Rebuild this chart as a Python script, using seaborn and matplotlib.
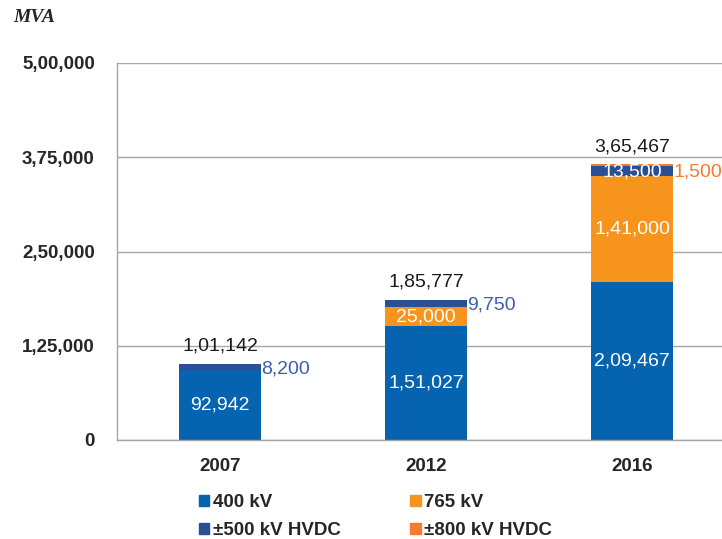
import matplotlib
matplotlib.use("Agg")
import matplotlib.pyplot as plt
import matplotlib.patches as mpatches
import seaborn as sns
import pandas as pd
import numpy as np

# Data (MVA)
years = ['2007', '2012', '2016']
kv400 = [92942, 151027, 209467]
kv765 = [0, 25000, 141000]
hvdc500 = [8200, 9750, 13500]
hvdc800 = [0, 0, 1500]
yticks = [0, 125000, 250000, 375000, 500000]


def indian(n):
    s = str(int(n))
    if len(s) <= 3:
        return s
    head, tail = s[:-3], s[-3:]
    parts = []
    while len(head) > 2:
        parts.insert(0, head[-2:])
        head = head[:-2]
    if head:
        parts.insert(0, head)
    return ','.join(parts + [tail])


c_400 = '#0563b0'
c_765 = '#f7941d'
c_500 = '#2b4f97'
c_800 = '#f47b30'

sns.set_theme(style="white")
plt.rcParams['font.family'] = ['Liberation Sans', 'DejaVu Sans']

df = pd.DataFrame({'year': years, 'kv400': kv400, 'kv765': kv765,
                   'hvdc500': hvdc500, 'hvdc800': hvdc800})
df['s1'] = df['kv400']
df['s2'] = df['s1'] + df['kv765']
df['s3'] = df['s2'] + df['hvdc500']
df['s4'] = df['s3'] + df['hvdc800']

fig = plt.figure(figsize=(7.22, 5.39), dpi=100)
ax = fig.add_axes([117 / 722, 99 / 539, 618 / 722, 377 / 539])

# stack by drawing cumulative totals from the top down
for col, color in [('s4', c_800), ('s3', c_500), ('s2', c_765), ('s1', c_400)]:
    sns.barplot(data=df, x='year', y=col, color=color, width=0.4,
                saturation=1, ax=ax, linewidth=0)

ax.set_xlim(-0.5, 2.5)
ax.set_ylim(0, 500000)
ax.set_yticks(yticks)
ax.set_yticklabels([indian(v) for v in yticks], fontweight='bold', fontsize=13.5)
ax.set_xticks(range(len(years)))
ax.set_xticklabels(years, fontweight='bold', fontsize=13.5)
ax.tick_params(axis='x', pad=13, length=0)
ax.tick_params(axis='y', pad=16, length=0)
ax.set_xlabel('')
ax.set_ylabel('')
ax.yaxis.grid(True, color='#a6a6a6', linewidth=1)
ax.set_axisbelow(True)
for side in ['top', 'right']:
    ax.spines[side].set_visible(False)
for side in ['left', 'bottom']:
    ax.spines[side].set_color('#a6a6a6')
    ax.spines[side].set_linewidth(1)

fs = 14
# labels inside bars
for i in range(len(years)):
    ax.text(i, df['s1'][i] / 2, indian(kv400[i]), color='white',
            ha='center', va='center', fontsize=fs)
    if kv765[i]:
        ax.text(i, df['s1'][i] + kv765[i] / 2, indian(kv765[i]), color='white',
                ha='center', va='center', fontsize=fs)
    # totals
    ax.text(i, df['s4'][i] + 12000, indian(df['s4'][i]), color='#1a1a1a',
            ha='center', va='bottom', fontsize=fs)

# HVDC labels
for i in range(2):
    ax.text(i + 0.2, df['s3'][i] - 7000, indian(hvdc500[i]), color='#3d5fa8',
            ha='left', va='center', fontsize=fs)
ax.text(2, df['s2'][2] + hvdc500[2] / 2 - 1500, indian(hvdc500[2]), color='white',
        ha='center', va='center', fontsize=fs)
ax.text(2.2, df['s3'][2] - 9000, indian(hvdc800[2]), color=c_800,
        ha='left', va='center', fontsize=fs)

fig.text(13 / 722, 1 - 18 / 539, 'MVA', family='Liberation Serif',
         style='italic', fontweight='bold', fontsize=14, va='center')

handles = [mpatches.Patch(color=c_400, label='400 kV'),
           mpatches.Patch(color=c_500, label='±500 kV HVDC'),
           mpatches.Patch(color=c_765, label='765 kV'),
           mpatches.Patch(color=c_800, label='±800 kV HVDC')]
leg = fig.legend(handles=handles, ncol=2, loc='upper left',
                 bbox_to_anchor=(199 / 722, 1 - 494 / 539), frameon=False,
                 handlelength=0.55, handleheight=0.55, handletextpad=0.2,
                 columnspacing=3.7, labelspacing=0.6, borderaxespad=0,
                 borderpad=0, prop={'weight': 'bold', 'size': 13.5})

fig.savefig('out.png', dpi=100)
